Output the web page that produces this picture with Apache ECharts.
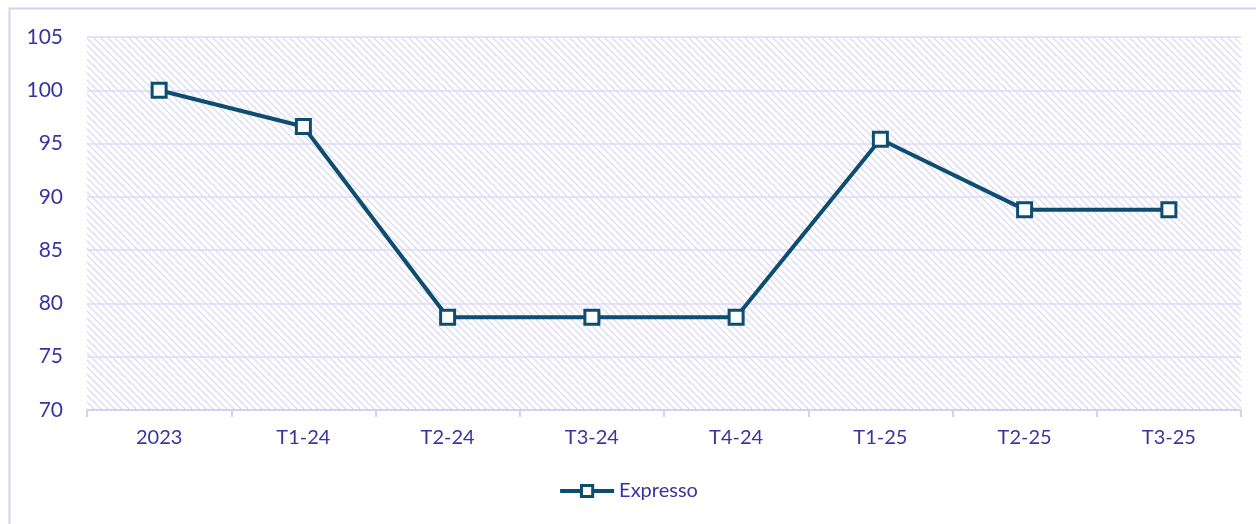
<!DOCTYPE html>
<html>
<head>
<meta charset="utf-8">
<script src="https://cdn.jsdelivr.net/npm/echarts@6/dist/echarts.min.js"></script>
<style>
  html, body { margin: 0; padding: 0; background: #fff; }
  #chart { width: 1256px; height: 524px; }
</style>
</head>
<body>
<div id="chart"></div>
<script>
// données
const categories = ['2023', 'T1-24', 'T2-24', 'T3-24', 'T4-24', 'T1-25', 'T2-25', 'T3-25'];
const expresso = [100, 96.6, 78.7, 78.7, 78.7, 95.4, 88.8, 88.8];
const yTicks = { min: 70, max: 105, interval: 5 };

const txtColor = '#3a34a0';
const lineColor = '#0d4d6f';
const paleColor = '#d3d1f2';

// motif hachuré du fond de la zone de tracé
function makeHatch() {
	const c = document.createElement('canvas');
	c.width = 7;
	c.height = 7;
	const ctx = c.getContext('2d');
	ctx.strokeStyle = '#d6d4f5';
	ctx.lineWidth = 1.2;
	for (let k = -1; k <= 1; k++) {
		ctx.beginPath();
		ctx.moveTo(k * 7, 0);
		ctx.lineTo(k * 7 + 7, 7);
		ctx.stroke();
	}
	return c;
}

const chart = echarts.init(document.getElementById('chart'), null, { renderer: 'canvas' });

let option = {
	animation: false,
	graphic: [{
		type: 'rect',
		shape: { x: 9.5, y: 8.5, width: 1400, height: 700 },
		style: { fill: 'none', stroke: paleColor, lineWidth: 2 },
		silent: true,
		z: -10
	}],
	grid: {
		left: 87,
		right: 15,
		top: 37,
		bottom: 114,
		show: true,
		borderWidth: 0,
		backgroundColor: { image: makeHatch(), repeat: 'repeat' }
	},
	legend: {
		bottom: 18,
		left: 'center',
		itemWidth: 54,
		itemHeight: 14,
		itemGap: 4,
		itemStyle: { color: '#ffffff', borderColor: lineColor, borderWidth: 3 },
		lineStyle: { color: lineColor, width: 4 },
		textStyle: { color: txtColor, fontFamily: 'Lato', fontSize: 20 },
		data: ['Expresso']
	},
	xAxis: {
		type: 'category',
		data: categories,
		boundaryGap: true,
		axisLine: { lineStyle: { color: paleColor, width: 2 } },
		axisTick: { show: true, length: 7, lineStyle: { color: paleColor, width: 2 } },
		axisLabel: { color: txtColor, fontFamily: 'Lato', fontSize: 20, margin: 18 },
		splitLine: { show: false }
	},
	yAxis: {
		type: 'value',
		min: yTicks.min,
		max: yTicks.max,
		interval: yTicks.interval,
		axisLine: { show: false },
		axisTick: { show: false },
		axisLabel: { color: txtColor, fontFamily: 'Lato', fontSize: 21, margin: 24 },
		splitLine: { lineStyle: { color: '#dcdaf6', width: 1.5 } }
	},
	series: [{
		name: 'Expresso',
		type: 'line',
		data: expresso,
		symbol: 'rect',
		symbolSize: 14,
		itemStyle: { color: '#ffffff', borderColor: lineColor, borderWidth: 3 },
		lineStyle: { color: lineColor, width: 4 },
		z: 5
	}]
};

chart.setOption(option);
</script>
</body>
</html>
